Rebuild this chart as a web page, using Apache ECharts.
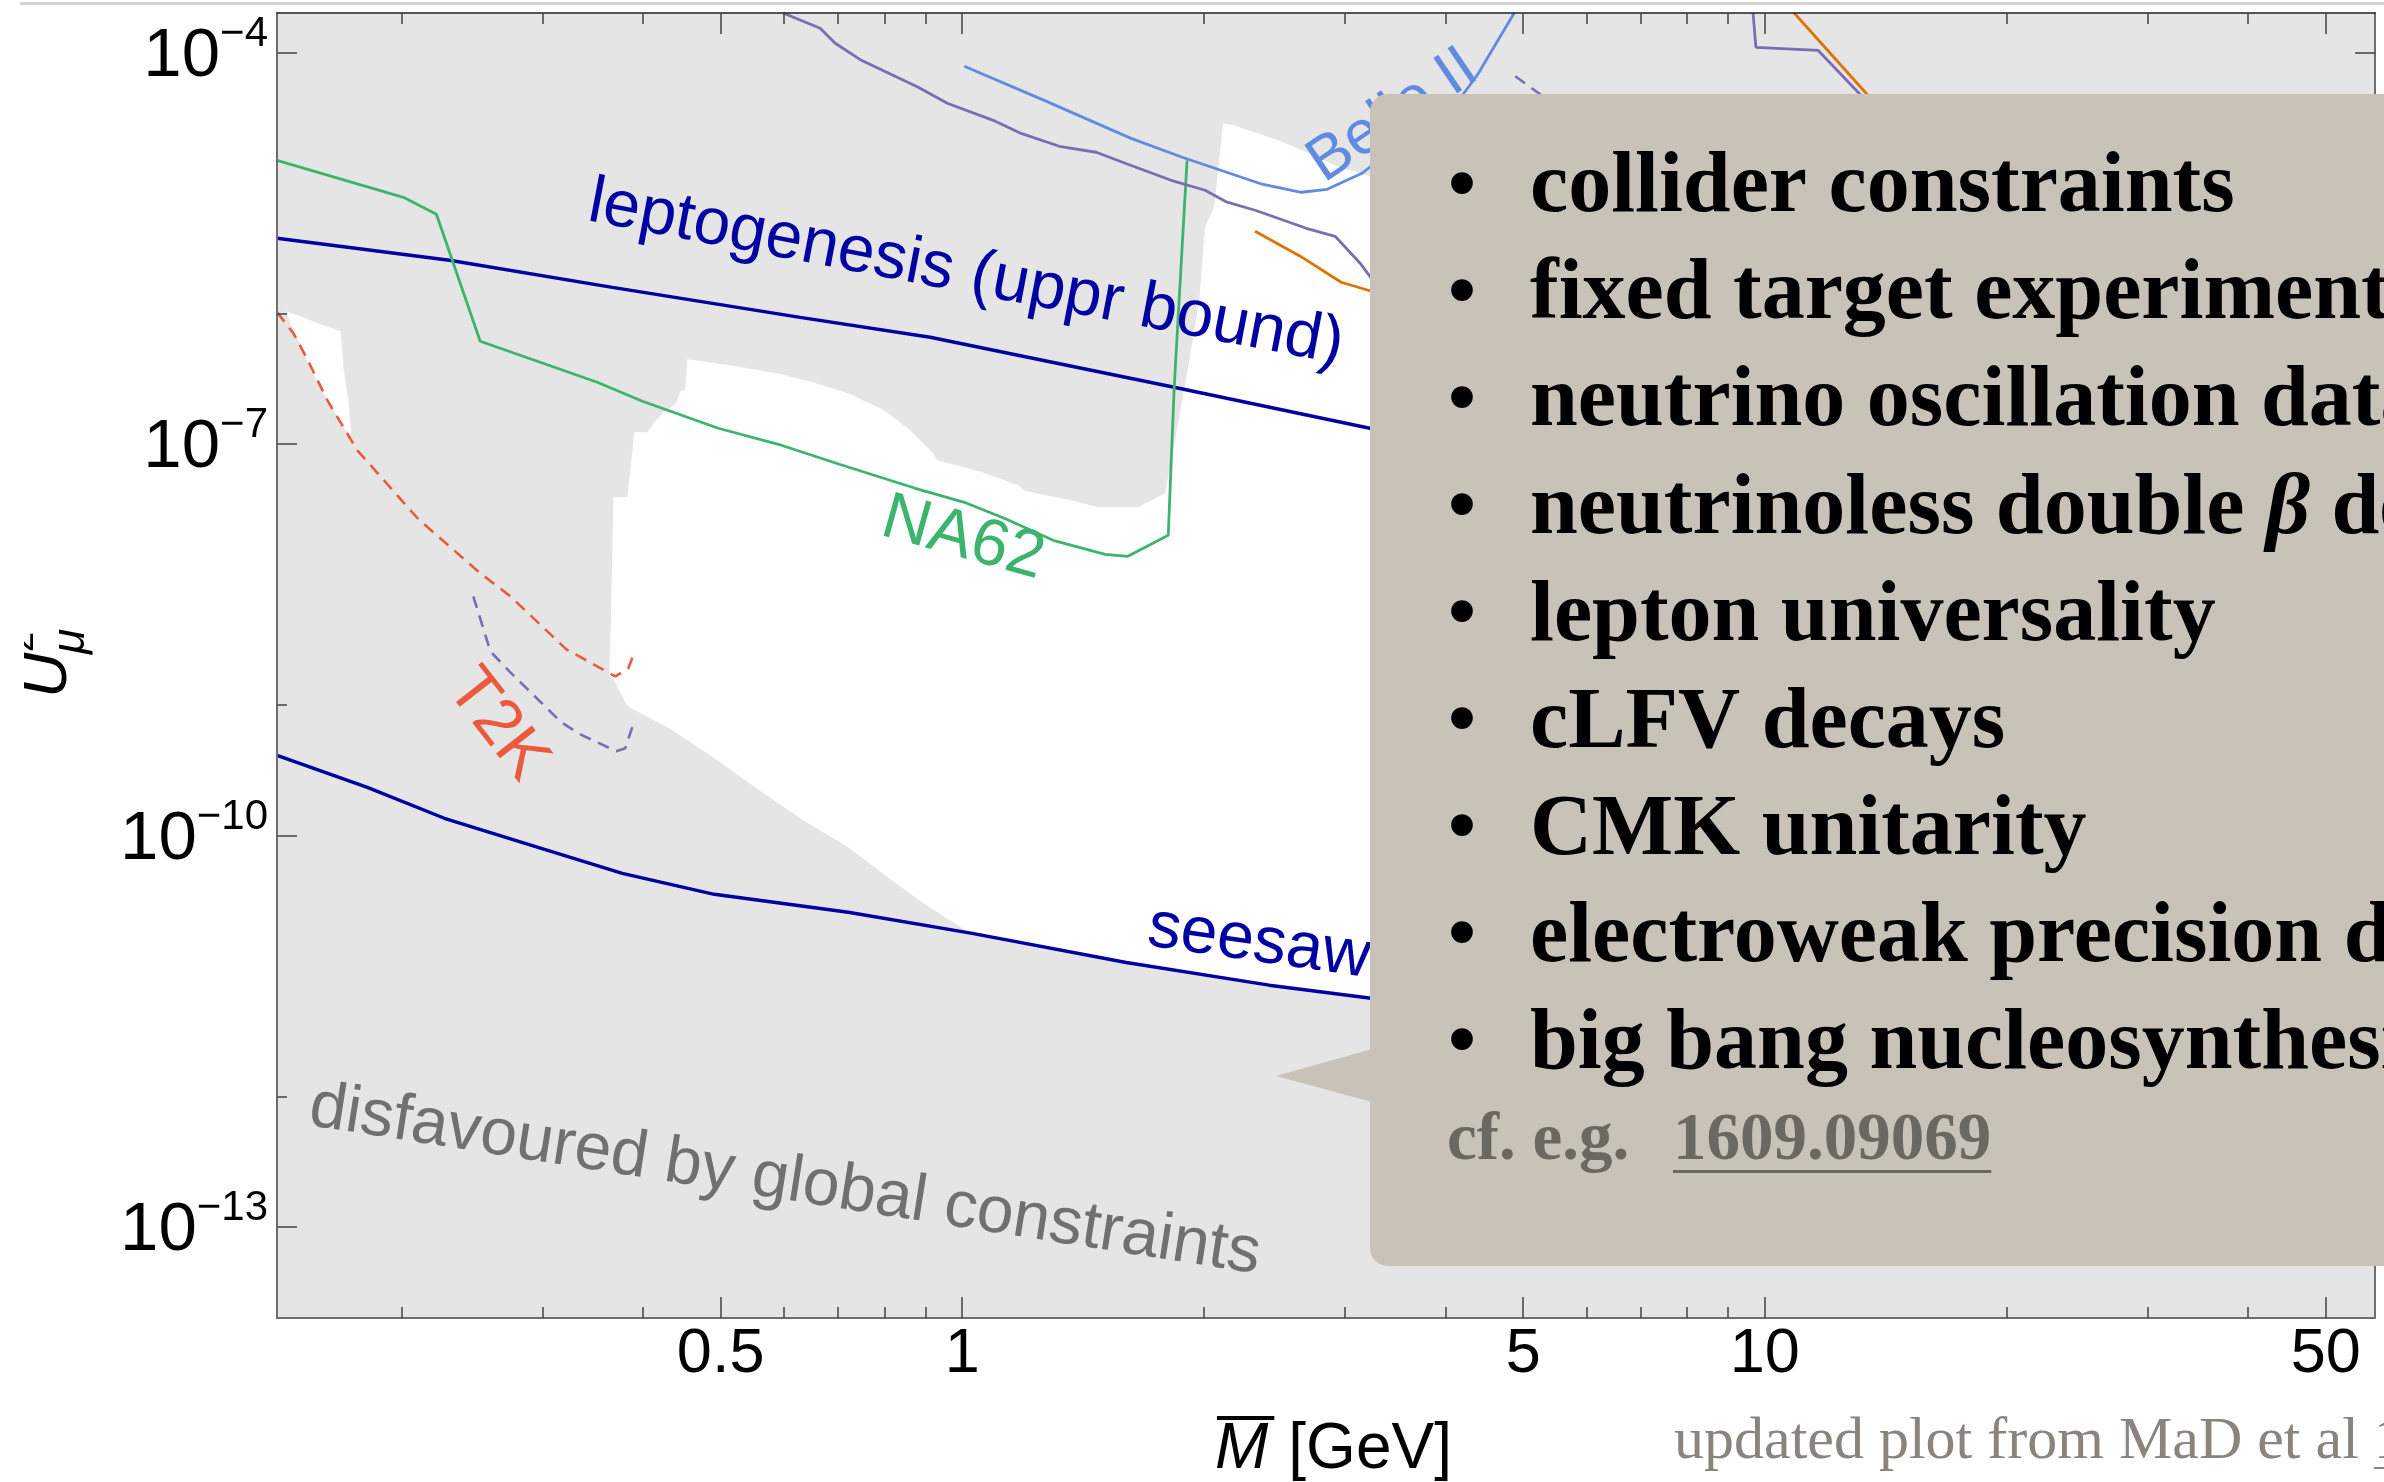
<!DOCTYPE html>
<html>
<head>
<meta charset="utf-8">
<title>Heavy neutrino mixing with the muon flavour</title>
<script src="https://cdn.jsdelivr.net/npm/echarts@6/dist/echarts.min.js"></script>
<style>
  html, body { margin: 0; padding: 0; background: #ffffff; }
  #chart { width: 2384px; height: 1482px; }
</style>
</head>
<body>
<div id="chart"></div>
<script>
// ---------- axes ----------
const massRange = [0.14, 57.6];          // M-bar in GeV
const mixingRange = [2e-14, 2e-4];       // U^2_mu
const massMajorTicks = [0.5, 1, 5, 10, 50];
const massMinorTicks = [0.2, 0.3, 0.4, 0.6, 0.7, 0.8, 0.9, 2, 3, 4, 6, 7, 8, 9, 20, 30, 40];
const mixingMajorTicks = [1e-4, 1e-7, 1e-10, 1e-13];
const mixingMinorTicks = [1e-6, 1e-9, 1e-12];

// ---------- curves: [mass GeV, U^2_mu] ----------
const leptogenesisUpper = [[0.140,3.76e-6],[0.2296,2.55e-6],[0.3664,1.58e-6],[0.628,9.3e-7],[0.912,6.55e-7],[1.837,2.71e-7],[3.22,1.315e-7],[5.56,6.5e-8]];
const seesawLine = [[0.140,4.1e-10],[0.1814,2.33e-10],[0.2263,1.35e-10],[0.2988,7.95e-11],[0.3771,5.11e-11],[0.4909,3.53e-11],[0.721,2.57e-11],[1.029,1.77e-11],[1.601,1.06e-11],[2.412,7.1e-12],[3.232,5.64e-12],[5.56,3.2e-12]];
const na62 = [[0.140,1.486e-5],[0.2012,7.74e-6],[0.2212,5.74e-6],[0.2508,6.1e-7],[0.3509,2.96e-7],[0.3995,2.12e-7],[0.4966,1.315e-7],[0.5949,9.75e-8],[0.7029,6.97e-8],[0.8739,4.56e-8],[1.006,3.56e-8],[1.128,2.69e-8],[1.298,1.82e-8],[1.507,1.42e-8],[1.606,1.37e-8],[1.806,1.99e-8],[1.837,2.71e-7],[1.906,1.486e-5]];
const t2k = [[0.140,1.02e-6],[0.1467,7.03e-7],[0.1523,4.6e-7],[0.1618,2.15e-7],[0.1763,8.9e-8],[0.2101,2.64e-8],[0.2508,1.02e-8],[0.2735,6.78e-9],[0.3211,2.66e-9],[0.3696,1.65e-9],[0.3836,1.9e-9],[0.3914,2.62e-9]];
const purpleDashedLow = [[0.2459,6.78e-9],[0.2582,2.57e-9],[0.2735,1.77e-9],[0.3165,7.34e-10],[0.3343,5.94e-10],[0.3707,4.4e-10],[0.3802,4.64e-10],[0.3902,7.48e-10]];
const purpleDashedHigh = [[4.887,6.55e-5],[5.25,4.77e-5],[5.56,3.29e-5]];
const purpleSolidLow = [[0.598,2e-4],[0.6653,1.528e-4],[0.6946,1.172e-4],[0.7487,8.68e-5],[0.8814,5.4e-5],[0.958,4.07e-5],[1.093,3.01e-5],[1.184,2.39e-5],[1.321,1.905e-5],[1.469,1.714e-5],[1.596,1.41e-5],[1.821,1.045e-5],[2.007,8.77e-6],[2.138,7.1e-6],[2.317,6.16e-6],[2.684,4.48e-6],[2.915,3.89e-6],[3.132,2.42e-6],[3.317,1.5e-6]];
const purpleSolidHigh = [[9.67,2e-4],[9.75,1.092e-4],[11.65,1.036e-4],[13.14,4.77e-5],[13.92,2.76e-5]];
const orangeLow = [[2.317,4.25e-6],[2.637,2.74e-6],[2.966,1.73e-6],[3.269,1.45e-6],[3.513,1.26e-6]];
const orangeHigh = [[10.88,2e-4],[13.41,4.77e-5],[14.12,2.76e-5]];
const belle2 = [[1.006,7.82e-5],[1.265,4.28e-5],[1.623,2.19e-5],[1.88,1.568e-5],[2.364,9.75e-6],[2.645,8.46e-6],[2.849,8.91e-6],[3.149,1.183e-5],[4.209,4.77e-5],[4.382,6.67e-5],[4.548,9.8e-5],[4.873,2e-4]];

// ---------- regions not excluded by the global constraints ----------
const allowedSliver = [[0.1438,1.035e-6],[0.1497,9.48e-7],[0.1586,8.24e-7],[0.168,7.28e-7],[0.1694,3.86e-7],[0.1718,2.15e-7],[0.1733,1.2e-7],[0.1713,1.2e-7],[0.1618,2.15e-7],[0.1537,3.86e-7],[0.1485,6.43e-7],[0.145,8.83e-7]];
const allowedMain = [[0.3633,1.683e-9],[0.3654,6.32e-9],[0.3675,3.89e-8],[0.3825,3.89e-8],[0.3869,7.48e-8],[0.3902,1.225e-7],[0.4052,1.225e-7],[0.4134,1.462e-7],[0.4242,1.742e-7],[0.4402,2.04e-7],[0.4453,2.52e-7],[0.4518,2.62e-7],[0.4544,4.44e-7],[0.5231,3.93e-7],[0.5949,3.41e-7],[0.6504,2.96e-7],[0.7211,2.44e-7],[0.7996,1.807e-7],[0.8614,1.268e-7],[0.9202,8.45e-8],[0.9309,7.48e-8],[1.059,6.05e-8],[1.174,4.81e-8],[1.201,4.33e-8],[1.367,3.69e-8],[1.477,3.26e-8],[1.657,3.26e-8],[1.79,4.18e-8],[1.848,1.202e-7],[1.912,3.86e-7],[1.974,1.259e-6],[2.007,4.56e-6],[2.06,6.49e-6],[2.114,2.86e-5],[2.176,2.76e-5],[2.476,2.12e-5],[2.706,1.683e-5],[2.966,1.291e-5],[3.149,1.183e-5],[3.72,8.02e-6],[5.56,6.15e-6],[5.56,3.2e-12],[3.232,5.64e-12],[2.412,7.1e-12],[1.601,1.06e-11],[1.029,1.77e-11],[1.009,1.87e-11],[0.9097,2.81e-11],[0.8228,4.36e-11],[0.7211,8.09e-11],[0.6337,1.303e-10],[0.5585,2.21e-10],[0.4853,4.1e-10],[0.4315,6.6e-10],[0.3847,9.57e-10],[0.3802,1.045e-9],[0.3675,1.567e-9]];

// ---------- texts ----------
const constraintList = ['collider constraints', 'fixed target experiments', 'neutrino oscillation data',
  'neutrinoless double β decay', 'lepton universality', 'cLFV decays', 'CMK unitarity',
  'electroweak precision data', 'big bang nucleosynthesis'];
const referenceId = '1609.09069';

// ---------- styling ----------
const SANS = '"Liberation Sans", Arial, Helvetica, sans-serif';
const SERIF = '"Liberation Serif", "Times New Roman", serif';
const NAVY = '#0000a3', GREEN = '#3cb46e', RED = '#ea5a3c', PURPLE = '#7b6db3',
      BELLE = '#628be0', ORANGE = '#dd7400', BOX = '#c9c2b9', CITE = '#6b6761';

const measureCtx = document.createElement('canvas').getContext('2d');
function textWidth(str, font) { measureCtx.font = font; return measureCtx.measureText(str).width; }

function axisBase(range, position, ticks, len, extra) {
  return Object.assign({
    type: 'log', logBase: 10, min: range[0], max: range[1], position: position,
    axisLine: { show: false, onZero: false },
    axisTick: { show: true, inside: true, length: len, customValues: ticks,
                lineStyle: { color: '#4a4a4a', width: 1.6 } },
    axisLabel: { show: false },
    splitLine: { show: false }, minorTick: { show: false }, minorSplitLine: { show: false },
    z: 5
  }, extra || {});
}

const xAxes = [
  axisBase(massRange, 'bottom', massMajorTicks, 21, {
    axisLine: { show: true, onZero: false, lineStyle: { color: '#6e6e6e', width: 2 } },
    axisLabel: { show: true, customValues: massMajorTicks, margin: 5, fontSize: 63, lineHeight: 64,
                 fontFamily: SANS, color: '#000', formatter: v => String(v) }
  }),
  axisBase(massRange, 'bottom', massMinorTicks, 11),
  axisBase(massRange, 'top', massMajorTicks, 21, {
    axisLine: { show: true, onZero: false, lineStyle: { color: '#222', width: 1.6 } }
  }),
  axisBase(massRange, 'top', massMinorTicks, 11)
];

const yAxes = [
  axisBase(mixingRange, 'left', mixingMajorTicks, 20, {
    axisLine: { show: true, onZero: false, lineStyle: { color: '#6e6e6e', width: 2 } },
    axisLabel: {
      show: true, customValues: mixingMajorTicks, margin: 9,
      formatter: v => '{b|10}{s|\u2212' + Math.abs(Math.round(Math.log10(v))) + '}',
      rich: {
        b: { fontSize: 69, lineHeight: 78, fontFamily: SANS, color: '#000', verticalAlign: 'bottom' },
        s: { fontSize: 42, lineHeight: 46, fontFamily: SANS, color: '#000', verticalAlign: 'top' }
      }
    }
  }),
  axisBase(mixingRange, 'left', mixingMinorTicks, 10),
  axisBase(mixingRange, 'right', mixingMajorTicks, 20, {
    axisLine: { show: true, onZero: false, lineStyle: { color: '#6e6e6e', width: 2 } }
  }),
  axisBase(mixingRange, 'right', mixingMinorTicks, 10)
];

function curve(name, data, color, width, dash) {
  return { name: name, type: 'line', data: data, symbol: 'none', showSymbol: false, silent: true,
           z: 3, clip: true, lineStyle: { color: color, width: width, type: dash ? [12, 8] : 'solid' } };
}

function allowedRegion(name, pts) {
  return {
    name: name, type: 'custom', coordinateSystem: 'cartesian2d', silent: true, z: 1,
    data: [pts[0]],
    renderItem: (params, api) => ({
      type: 'polygon',
      shape: { points: pts.map(p => api.coord(p)) },
      style: { fill: '#ffffff' }
    })
  };
}

function annotation(text, x, y, deg, color, size) {
  return { type: 'text', x: x, y: y, rotation: deg * Math.PI / 180, z: 10, silent: true,
           style: { text: text, fill: color, fontSize: size || 66, fontFamily: SANS,
                    align: 'center', verticalAlign: 'middle' } };
}

// callout box listing the constraints that enter the global fit
const listSize = 86;
const listFont = 'bold ' + listSize + 'px ' + SERIF;
const calloutItems = [];
constraintList.forEach((item, i) => {
  const y = 189 + i * 107.1;
  calloutItems.push({ type: 'text', x: 1462, y: y, z: 101, silent: true,
    style: { text: '•', fill: '#000', font: 'bold 80px ' + SERIF, align: 'center', verticalAlign: 'middle' } });
  const parts = item.split('β');
  const rich = parts.length > 1 ? '{n|' + parts[0] + '}{i|β}{n|' + parts[1] + '}' : '{n|' + item + '}';
  calloutItems.push({ type: 'text', x: 1530, y: y, z: 101, silent: true,
    style: { text: rich, align: 'left', verticalAlign: 'middle',
             rich: { n: { font: listFont, fill: '#000' },
                     i: { font: 'italic bold ' + listSize + 'px ' + SERIF, fill: '#000' } } } });
});
const citeFont = 'bold 67px ' + SERIF;
const idX = 1673;
const idW = textWidth(referenceId, citeFont);

const footFont = '60px ' + SERIF;
const footLead = 'updated plot from MaD et al ';
const footX = 1674;
const footIdX = footX + textWidth(footLead, footFont);
const footIdW = textWidth(referenceId, footFont);

const mFont = 'italic 64px ' + SANS;
const mWidth = textWidth('M', mFont);

const option = {
  animation: false,
  backgroundColor: '#ffffff',
  grid: { left: 277, right: 9, top: 13, bottom: 164, show: true, backgroundColor: '#e5e5e5', borderWidth: 0 },
  xAxis: xAxes,
  yAxis: yAxes,
  series: [
    allowedRegion('allowed (low mass)', allowedSliver),
    allowedRegion('allowed', allowedMain),
    curve('leptogenesis (uppr bound)', leptogenesisUpper, NAVY, 3.4),
    curve('seesaw', seesawLine, NAVY, 3.4),
    curve('NA62', na62, GREEN, 2.8),
    curve('T2K', t2k, RED, 2.6, true),
    curve('T2K (second)', purpleDashedLow, PURPLE, 2.6, true),
    curve('projection (dashed)', purpleDashedHigh, PURPLE, 2.6, true),
    curve('projection A', purpleSolidLow, PURPLE, 2.8),
    curve('projection A (high mass)', purpleSolidHigh, PURPLE, 2.8),
    curve('projection B', orangeLow, ORANGE, 2.8),
    curve('projection B (high mass)', orangeHigh, ORANGE, 2.8),
    curve('Belle II', belle2, BELLE, 2.8)
  ],
  graphic: [
    // slide rule along the top
    { type: 'rect', shape: { x: 20, y: 2, width: 2364, height: 3 }, style: { fill: '#d4d4d4' }, z: 10, silent: true },

    annotation('leptogenesis (uppr bound)', 966, 274, -10.8, NAVY),
    annotation('NA62', 963, 539, -15.6, GREEN),
    annotation('seesaw', 1259, 943, -8.2, NAVY),
    annotation('T2K', 497, 725, -52, RED),
    annotation('Belle II', 1393, 116, 34, BELLE, 62),
    annotation('disfavoured by global constraints', 785, 1181, -8.9, '#707070'),

    // y axis title U^2_mu (rotated)
    { type: 'group', x: 70, y: 698, rotation: Math.PI / 2, silent: true, children: [
      { type: 'text', x: 0, y: -22, z: 10,
        style: { text: 'U', font: 'italic 63px ' + SANS, fill: '#000', align: 'left', verticalAlign: 'middle' } },
      { type: 'text', x: 44, y: 1, z: 10,
        style: { text: 'μ', font: 'italic 46px ' + SANS, fill: '#000', align: 'left', verticalAlign: 'middle' } },
      { type: 'text', x: 46, y: -47, z: 10,
        style: { text: '2', font: '36px ' + SANS, fill: '#000', align: 'left', verticalAlign: 'middle' } }
    ] },
    { type: 'rect', shape: { x: 0, y: 560, width: 24, height: 200 }, style: { fill: '#ffffff' }, z: 200, silent: true },

    // x axis title: M-bar [GeV]
    { type: 'text', x: 1215, y: 1450, z: 10, silent: true,
      style: { text: 'M', font: mFont, fill: '#000', align: 'left', verticalAlign: 'middle' } },
    { type: 'rect', shape: { x: 1217, y: 1416, width: mWidth + 4, height: 4 }, style: { fill: '#000' }, z: 10, silent: true },
    { type: 'text', x: 1215 + mWidth + 20, y: 1450, z: 10, silent: true,
      style: { text: '[GeV]', font: '64px ' + SANS, fill: '#000', align: 'left', verticalAlign: 'middle' } },

    // callout box
    { type: 'rect', shape: { x: 1370, y: 94, width: 1100, height: 1172, r: 18 }, style: { fill: BOX }, z: 100, silent: true },
    { type: 'polygon', shape: { points: [[1372, 1049], [1276, 1076], [1372, 1102]] }, style: { fill: BOX }, z: 100, silent: true },
    ...calloutItems,
    { type: 'text', x: 1447, y: 1142, z: 101, silent: true,
      style: { text: 'cf. e.g.', font: citeFont, fill: CITE, align: 'left', verticalAlign: 'middle' } },
    { type: 'text', x: idX, y: 1142, z: 101, silent: true,
      style: { text: referenceId, font: citeFont, fill: CITE, align: 'left', verticalAlign: 'middle' } },
    { type: 'rect', shape: { x: idX, y: 1170, width: idW, height: 3 }, style: { fill: CITE }, z: 101, silent: true },

    // footer credit
    { type: 'text', x: footX, y: 1442, z: 10, silent: true,
      style: { text: footLead + referenceId, font: footFont, fill: '#8a847e', align: 'left', verticalAlign: 'middle' } },
    { type: 'rect', shape: { x: footIdX, y: 1467, width: footIdW, height: 2 }, style: { fill: '#8a847e' }, z: 10, silent: true }
  ]
};

const chart = echarts.init(document.getElementById('chart'), null, { renderer: 'canvas', width: 2384, height: 1482 });
chart.setOption(option);
</script>
</body>
</html>
